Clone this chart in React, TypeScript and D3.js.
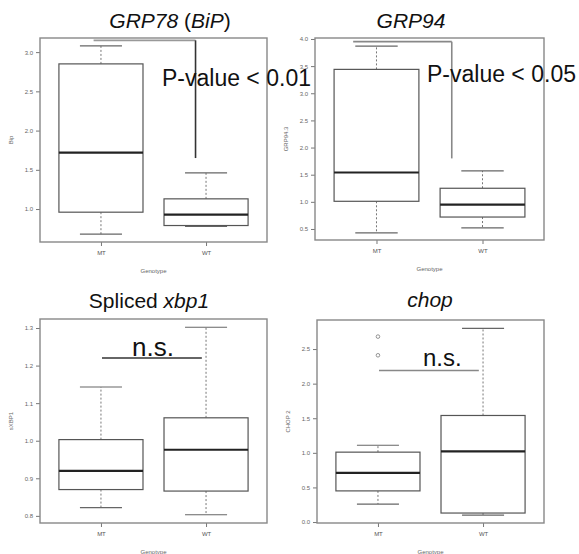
import React, { useEffect, useRef } from "react";
import * as d3 from "d3";

const groups = ["MT", "WT"];

// five-number summaries: [min, q1, median, q3, max]
const grp78MT = [0.68, 0.96, 1.72, 2.85, 3.08];
const grp78WT = [0.78, 0.79, 0.93, 1.13, 1.46];
const grp94MT = [0.43, 1.01, 1.54, 3.44, 3.87];
const grp94WT = [0.52, 0.72, 0.95, 1.25, 1.57];
const xbp1MT = [0.822, 0.87, 0.92, 1.003, 1.143];
const xbp1WT = [0.803, 0.866, 0.976, 1.061, 1.302];
const chopMT = [0.26, 0.45, 0.71, 1.01, 1.11];
const chopWT = [0.1, 0.13, 1.02, 1.54, 2.8];
const chopMTOutliers = [2.41, 2.68];

const grp78Ticks = [1.0, 1.5, 2.0, 2.5, 3.0];
const grp94Ticks = [0.5, 1.0, 1.5, 2.0, 2.5, 3.0, 3.5, 4.0];
const xbp1Ticks = [0.8, 0.9, 1.0, 1.1, 1.2, 1.3];
const chopTicks = [0.0, 0.5, 1.0, 1.5, 2.0, 2.5];

const yLabels = ["Bip", "GRP94.3", "sXBP1", "CHOP 2"];
const xLabel = "Genotype";
const annotations = ["P-value < 0.01", "P-value < 0.05", "n.s.", "n.s."];

// significance marks in data units: [xStart, xEnd, yLevel, yDrop]
const grp78Bracket = [0.93, 1.9, 3.15, 1.65];
const grp94Bracket = [0.78, 1.71, 3.95, 1.8];
const xbp1Line = [1.01, 1.96, 1.22];
const chopLine = [1.01, 1.96, 2.19];

const panels = [
  {
    title: [{ t: "GRP78 ", i: true }, { t: "(", i: false }, { t: "BiP", i: true }, { t: ")", i: false }],
    boxes: [grp78MT, grp78WT], outliers: [[], []], ticks: grp78Ticks, yDomain: [0.58, 3.18],
    bracket: grp78Bracket, ns: null,
    plot: { left: 40, right: 267, top: 38, bottom: 242 },
    titlePos: [170, 28], notePos: [162, 86, 23], hColor: "#999", vColor: "#333",
  },
  {
    title: [{ t: "GRP94", i: true }],
    boxes: [grp94MT, grp94WT], outliers: [[], []], ticks: grp94Ticks, yDomain: [0.297, 4.018],
    bracket: grp94Bracket, ns: null,
    plot: { left: 315, right: 544, top: 38, bottom: 240 },
    titlePos: [411, 28], notePos: [427, 82, 23], hColor: "#888", vColor: "#888",
  },
  {
    title: [{ t: "Spliced ", i: false }, { t: "xbp1", i: true }],
    boxes: [xbp1MT, xbp1WT], outliers: [[], []], ticks: xbp1Ticks, yDomain: [0.781, 1.324],
    bracket: null, ns: xbp1Line,
    plot: { left: 40, right: 267, top: 319, bottom: 523 },
    titlePos: [149, 308], notePos: [132, 356, 26], hColor: "#333", vColor: "#333",
  },
  {
    title: [{ t: "chop", i: true }],
    boxes: [chopMT, chopWT], outliers: [chopMTOutliers, []], ticks: chopTicks, yDomain: [-0.014, 2.92],
    bracket: null, ns: chopLine,
    plot: { left: 317, right: 544, top: 320, bottom: 523 },
    titlePos: [430, 307], notePos: [423, 366, 24], hColor: "#888", vColor: "#888",
  },
];

const W = 579;
const H = 554;
const FONT = "'Liberation Sans', Arial, sans-serif";

export default function App() {
  const ref = useRef<SVGSVGElement>(null);

  useEffect(() => {
    const svg = d3.select(ref.current);
    svg.selectAll("*").remove();
    svg.append("rect").attr("width", W).attr("height", H).attr("fill", "#fff");

    panels.forEach((p, pi) => {
      const { left, right, top, bottom } = p.plot;
      const x = d3.scaleLinear().domain([0.42, 2.58]).range([left, right]);
      const y = d3.scaleLinear().domain(p.yDomain).range([bottom, top]);
      const g = svg.append("g");

      // y axis
      const ya = g.append("g").attr("transform", `translate(${left},0)`)
        .call(d3.axisLeft(y).tickValues(p.ticks).tickSize(4).tickPadding(3).tickFormat(d3.format(".1f")));
      ya.select(".domain").remove();
      ya.selectAll("line").attr("stroke", "#777");
      ya.selectAll("text").attr("fill", "#666").attr("font-size", 6).attr("font-family", FONT);

      // x axis
      const xa = g.append("g").attr("transform", `translate(0,${bottom})`)
        .call(d3.axisBottom(x).tickValues([1, 2]).tickSize(4).tickPadding(5).tickFormat((d) => groups[(d as number) - 1]));
      xa.select(".domain").remove();
      xa.selectAll("line").attr("stroke", "#777");
      xa.selectAll("text").attr("fill", "#555").attr("font-size", 6).attr("font-family", FONT);

      g.append("text").attr("x", (left + right) / 2).attr("y", bottom + 31)
        .attr("text-anchor", "middle").attr("font-size", 6).attr("fill", "#666").attr("font-family", FONT)
        .text(xLabel);
      const ly = (top + bottom) / 2;
      const lx = left - 27;
      g.append("text").attr("transform", `translate(${lx},${ly}) rotate(-90)`)
        .attr("text-anchor", "middle").attr("font-size", 6).attr("fill", "#666").attr("font-family", FONT)
        .text(yLabels[pi]);

      // boxes
      p.boxes.forEach((b, bi) => {
        const cx = x(bi + 1);
        const hw = x(bi + 1 + 0.4) - cx;
        const cw = hw / 2;
        const [mn, q1, md, q3, mx] = b;
        g.append("line").attr("x1", cx).attr("x2", cx).attr("y1", y(q3)).attr("y2", y(mx))
          .attr("stroke", "#777").attr("stroke-dasharray", "2,2");
        g.append("line").attr("x1", cx).attr("x2", cx).attr("y1", y(q1)).attr("y2", y(mn))
          .attr("stroke", "#777").attr("stroke-dasharray", "2,2");
        [mn, mx].forEach((v) => {
          g.append("line").attr("x1", cx - cw).attr("x2", cx + cw).attr("y1", y(v)).attr("y2", y(v))
            .attr("stroke", "#666").attr("stroke-width", 1.2);
        });
        g.append("rect").attr("x", cx - hw).attr("width", 2 * hw).attr("y", y(q3)).attr("height", y(q1) - y(q3))
          .attr("fill", "#fff").attr("stroke", "#555").attr("stroke-width", 1.2);
        g.append("line").attr("x1", cx - hw).attr("x2", cx + hw).attr("y1", y(md)).attr("y2", y(md))
          .attr("stroke", "#222").attr("stroke-width", 2.2);
        p.outliers[bi].forEach((o) => {
          g.append("circle").attr("cx", cx).attr("cy", y(o)).attr("r", 1.8)
            .attr("fill", "none").attr("stroke", "#888").attr("stroke-width", 0.9);
        });
      });

      // frame
      g.append("rect").attr("x", left).attr("y", top).attr("width", right - left).attr("height", bottom - top)
        .attr("fill", "none").attr("stroke", "#888").attr("stroke-width", 1.4);

      // significance marks
      if (p.bracket) {
        const [x1, x2, yl, yd] = p.bracket;
        g.append("line").attr("x1", x(x1)).attr("x2", x(x2)).attr("y1", y(yl)).attr("y2", y(yl))
          .attr("stroke", p.hColor).attr("stroke-width", 1.8);
        g.append("line").attr("x1", x(x2)).attr("x2", x(x2)).attr("y1", y(yl)).attr("y2", y(yd))
          .attr("stroke", p.vColor).attr("stroke-width", 1.6);
      }
      if (p.ns) {
        const [x1, x2, yl] = p.ns;
        g.append("line").attr("x1", x(x1)).attr("x2", x(x2)).attr("y1", y(yl)).attr("y2", y(yl))
          .attr("stroke", p.hColor).attr("stroke-width", 1.6);
      }

      // title
      const t = g.append("text").attr("x", p.titlePos[0]).attr("y", p.titlePos[1])
        .attr("text-anchor", "middle").attr("font-size", 21).attr("fill", "#111").attr("font-family", FONT);
      p.title.forEach((s) => {
        t.append("tspan").attr("font-style", s.i ? "italic" : "normal").text(s.t);
      });
    });

    // annotations on top of everything
    panels.forEach((p, pi) => {
      svg.append("text").attr("x", p.notePos[0]).attr("y", p.notePos[1])
        .attr("font-size", p.notePos[2]).attr("fill", "#111").attr("font-family", FONT)
        .text(annotations[pi]);
    });
  }, []);

  return (
    <svg ref={ref} width={W} height={H} style={{ position: "absolute", left: 0, top: 0 }} />
  );
}
